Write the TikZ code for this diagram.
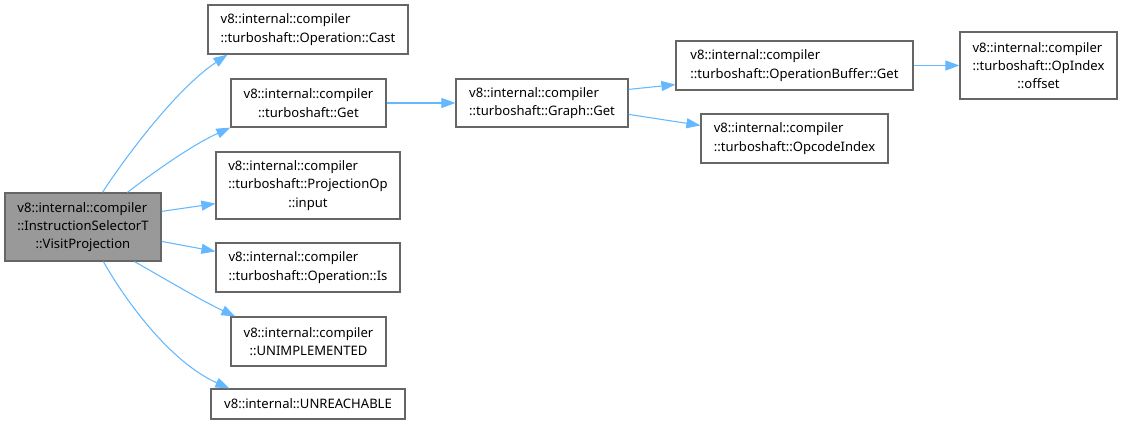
\documentclass[tikz,border=0pt]{standalone}
\usepackage{fontspec}
\setmainfont{Noto Sans}
\usetikzlibrary{arrows.meta,calc}
\definecolor{edgeblue}{HTML}{63B8FF}
\definecolor{boxgray}{HTML}{666666}
\definecolor{mainfill}{HTML}{999999}
\tikzset{
  fn/.style={draw=boxgray, line width=0.9pt, fill=white, inner sep=0pt, align=left,
    font=\fontsize{9.8}{13.7}\selectfont, text=black},
  mainfn/.style={fn, fill=mainfill},
  call/.style={draw=edgeblue, line width=0.8pt, -{Triangle[length=10.5pt,width=7.5pt]}},
}
\begin{document}
\begin{tikzpicture}[x=0.75pt,y=-0.75pt]
\useasboundingbox (0,0) rectangle (1122,425);
\node[mainfn, minimum width=156*0.75pt, minimum height=68*0.75pt] (main) at (83,227)
  {v8::internal::compiler\\::InstructionSelectorT\\\hfil ::VisitProjection};
\node[fn, minimum width=200*0.75pt, minimum height=49*0.75pt] (cast) at (308,29.5)
  {v8::internal::compiler\\\hfil ::turboshaft::Operation::Cast};
\node[fn, minimum width=155*0.75pt, minimum height=48*0.75pt] (get) at (308.5,103)
  {v8::internal::compiler\\\hfil ::turboshaft::Get};
\node[fn, minimum width=184*0.75pt, minimum height=67*0.75pt] (proj) at (308,185.5)
  {v8::internal::compiler\\::turboshaft::ProjectionOp\\\hfil ::input};
\node[fn, minimum width=184*0.75pt, minimum height=49*0.75pt] (is) at (308,267.5)
  {v8::internal::compiler\\\hfil ::turboshaft::Operation::Is};
\node[fn, minimum width=155*0.75pt, minimum height=49*0.75pt] (unimp) at (308.5,341.5)
  {v8::internal::compiler\\\hfil ::UNIMPLEMENTED};
\node[fn, minimum width=194*0.75pt, minimum height=30*0.75pt] (unreach) at (308,404)
  {v8::internal::UNREACHABLE};
\node[fn, minimum width=172*0.75pt, minimum height=48*0.75pt] (gget) at (542,103)
  {v8::internal::compiler\\\hfil ::turboshaft::Graph::Get};
\node[fn, minimum width=237*0.75pt, minimum height=49*0.75pt] (opbuf) at (794.5,65.5)
  {v8::internal::compiler\\\hfil ::turboshaft::OperationBuffer::Get};
\node[fn, minimum width=187*0.75pt, minimum height=49*0.75pt] (opcode) at (794.5,138.5)
  {v8::internal::compiler\\\hfil ::turboshaft::OpcodeIndex};
\node[fn, minimum width=157*0.75pt, minimum height=67*0.75pt] (opindex) at (1038.5,65.5)
  {v8::internal::compiler\\::turboshaft::OpIndex\\\hfil ::offset};
% edges
\draw[call] ($(main.north west)+(98,0)$) .. controls (125,158) and (175,90) .. ($(cast.south west)+(20,0)$);
\draw[call] ($(main.north west)+(123,0)$) .. controls (150,175) and (190,146) .. ($(get.south west)+(0,0)$);
\draw[call] ($(main.north east)+(0,19)$) -- ($(proj.south west)+(0,-16)$);
\draw[call] ($(main.north east)+(0,49)$) -- ($(is.north west)+(0,9)$);
\draw[call] ($(main.south west)+(130,0)$) .. controls (155,273) and (200,300) .. ($(unimp.north west)+(5,0)$);
\draw[call] ($(main.south west)+(99,0)$) .. controls (125,300) and (170,362) .. ($(unreach.north west)+(19,0)$);
\draw[call] (get.east) -- (gget.west);
\draw[call] ($(gget.north east)+(0,11)$) -- ($(opbuf.south west)+(0,-6)$);
\draw[call] ($(gget.north east)+(0,36)$) -- ($(opcode.north west)+(0,12)$);
\draw[call] (opbuf.east) -- (opindex.west);
\end{tikzpicture}
\end{document}
